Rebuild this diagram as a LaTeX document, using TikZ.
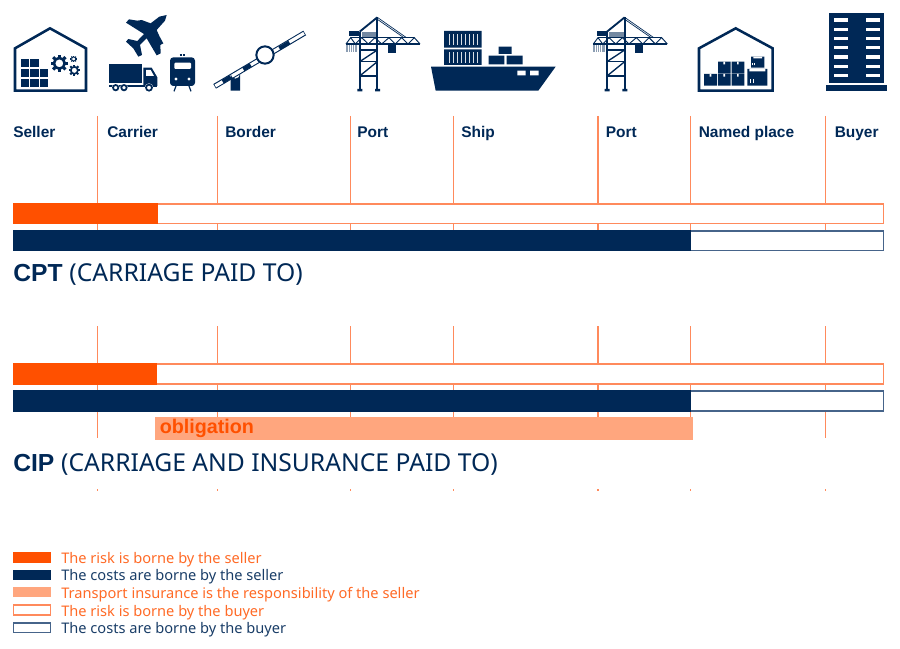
\documentclass[tikz,border=0pt]{standalone}
\usepackage{fontspec}
\setmainfont{Liberation Sans}
\newfontfamily\plexlike{Noto Sans}
\definecolor{navy}{HTML}{002856}
\definecolor{orng}{HTML}{FF5000}
\definecolor{lorng}{HTML}{FFA67E}
\definecolor{vline}{HTML}{FF8A5C}
\definecolor{nline}{HTML}{46648A}
\tikzset{
  px/.style={x=0.75pt,y=-0.75pt},
  zm/.style={x=0.25pt,y=-0.25pt},
  stopline/.style={draw=vline,line width=1.1pt},
  riskfill/.style={fill=orng,draw=none},
  riskbox/.style={draw=vline,line width=1.1pt,fill=white},
  costfill/.style={fill=navy,draw=none},
  costbox/.style={draw=nline,line width=1.1pt,fill=white},
  insfill/.style={fill=lorng,draw=none},
  toplabel/.style={anchor=base west,inner sep=0pt,text=navy,font=\bfseries\fontsize{11.6}{13}\selectfont},
  titlelabel/.style={anchor=base west,inner sep=0pt,text=navy,font=\fontsize{18.5}{20}\selectfont},
  oblabel/.style={anchor=base west,inner sep=0pt,text=orng,font=\bfseries\fontsize{14.8}{17}\selectfont},
  legtext/.style={anchor=base west,inner sep=0pt,font=\plexlike\fontsize{10.95}{12}\selectfont},
  ic/.style={fill=navy,draw=none},
  icl/.style={draw=navy,fill=none},
}
\newcommand{\geardraw}[3]{%
  \begin{scope}[shift={(#1,#2)}]
    \draw[icl,line width=#3*0.075pt] (0,0) circle ({#3*0.62});
    \foreach \a in {0,45,...,315}
      \draw[icl,line width=#3*0.09pt] (\a:{#3*0.7}) -- (\a:{#3});
  \end{scope}}
\newcommand{\cranedraw}{%
  \fill[navy!55] (125,97) rectangle (172,110);
  \fill[navy!45] (78,132) rectangle (112,155);
  \draw[white,line width=0.3pt] (84,134) -- (84,155) (90,134) -- (90,155) (96,134) -- (96,155) (102,134) -- (102,155);
  \fill[ic] (88,93) rectangle (118,107);
  \fill[ic] (203,135) rectangle (228,160);
  \draw[icl,line width=1.1pt] (78,132) -- (300,132);
  \draw[icl,line width=0.9pt] (92,113) -- (283,113);
  \draw[icl,line width=0.7pt] (78,132) -- (92,113) -- (106,132) -- (125,113) -- (145,132) -- (165,113) -- (185,132) -- (207,113) -- (226,132) -- (245,113) -- (264,132) -- (283,113) -- (300,132);
  \draw[icl,line width=1.4pt] (119,95) -- (172,52);
  \draw[icl,line width=0.5pt] (172,52) -- (258,112) (172,58) -- (250,112);
  \draw[icl,line width=1.6pt] (119,95) -- (119,270) (172,52) -- (172,270);
  \draw[icl,line width=1.1pt] (119,150) -- (172,150) (119,185) -- (172,185) (119,228) -- (172,228);
  \draw[icl,line width=1pt] (119,185) -- (172,150) (119,228) -- (172,185);
  \fill[ic] (112,267) rectangle (127,274) (165,267) rectangle (180,274);
}
\begin{document}
\begin{tikzpicture}[px]
\useasboundingbox (0,0) rectangle (900,649);
% stop lines
\foreach \x in {97.7,217.3,350.3,453.7,598.2,690.7,825.7}{
  \draw[stopline] (\x,116) -- (\x,232);
  \draw[stopline] (\x,326) -- (\x,438);
  \draw[stopline] (\x,489) -- (\x,491);
}
% CPT bars
\draw[riskbox] (13.7,204) rectangle (883.5,223.6);
\fill[riskfill] (13,203.2) rectangle (157.5,224.3);
\draw[costbox] (13.7,231) rectangle (883.5,250.6);
\fill[costfill] (13,230.2) rectangle (690.5,251.3);
% CIP bars
\draw[riskbox] (13.7,364) rectangle (883.5,383.8);
\fill[riskfill] (13,363.3) rectangle (157,384.5);
\draw[costbox] (13.7,391.2) rectangle (883.5,410.9);
\fill[costfill] (13,390.4) rectangle (690.5,411.6);
\fill[insfill] (155,416.7) rectangle (692.5,440.3);
\node[oblabel] (ob) at (159.5,433) {obligation};
% top labels
\node[toplabel] (l1) at (13,137.5) {Seller};
\node[toplabel] (l2) at (107,137.5) {Carrier};
\node[toplabel] (l3) at (225,137.5) {Border};
\node[toplabel] (l4) at (357,137.5) {Port};
\node[toplabel] (l5) at (461,137.5) {Ship};
\node[toplabel] (l6) at (605.5,137.5) {Port};
\node[toplabel] (l7) at (698.5,137.5) {Named place};
\node[toplabel] (l8) at (834.5,137.5) {Buyer};
% titles
\node[titlelabel] (t1) at (13,281.5) {{\bfseries CPT} \plexlike (CARRIAGE PAID TO)};
\node[titlelabel] (t2) at (13,471.5) {{\bfseries CIP} \plexlike (CARRIAGE AND INSURANCE PAID TO)};
% legend
\fill[riskfill] (13,552.3) rectangle (50.5,562.5);
\fill[costfill] (13,569.7) rectangle (50.5,579.8);
\fill[insfill] (13,587) rectangle (50.5,597.3);
\draw[riskbox] (13.5,605.2) rectangle (50.3,615);
\draw[costbox] (13.5,622.8) rectangle (50.3,632.4);
\node[legtext,text=orng!85!white] (g1) at (61,563.4) {The risk is borne by the seller};
\node[legtext,text=navy!90!white] (g2) at (61,580.9) {The costs are borne by the seller};
\node[legtext,text=orng!85!white] (g3) at (61,598.4) {Transport insurance is the responsibility of the seller};
\node[legtext,text=orng!85!white] (g4) at (61,616.1) {The risk is borne by the buyer};
\node[legtext,text=navy!90!white] (g5) at (61,633.6) {The costs are borne by the buyer};
% icons: crop 1
\begin{scope}[zm]
  % warehouse
  \draw[icl,line width=1.9pt,line join=miter] (45,272) -- (45,145) -- (150,85) -- (258,145) -- (258,272) -- cycle;
  \foreach \c/\r in {0/0,1/0,0/1,1/1,2/1,0/2,1/2,2/2}
    \fill[ic] ({62+\c*28.5},{177+\r*29.5}) rectangle ++(25,25);
  \geardraw{178}{190}{26}
  \geardraw{223}{211}{17}
  \geardraw{221}{177}{10}
  % plane
  \fill[ic] (500,45) -- (495,62) -- (470,90) -- (478,108) -- (490,130) -- (481,135) -- (482,160) -- (470,166) -- (440,115) -- (420,135) -- (426,165) -- (415,170) -- (400,145) -- (378,125) -- (385,117) -- (412,123) -- (432,102) -- (378,68) -- (387,58) -- (412,62) -- (425,60) -- (452,70) -- (478,50) -- cycle;
  % truck
  \fill[ic] (328,193) rectangle (425,250);
  \fill[ic] (430,203) -- (455,203) -- (472,232) -- (472,258) -- (430,258) -- cycle;
  \fill[ic] (328,254) rectangle (472,261);
  \fill[white] (438,210) -- (452,210) -- (462,228) -- (438,228) -- cycle;
  \foreach \x/\r in {347/10,372/10,447/11}{
    \fill[white] (\x,263) circle (\r+2);
    \draw[icl,line width=1.3pt] (\x,263) circle (\r-2);
  }
  % train
  \fill[ic,rounded corners=2.5pt] (510,172) rectangle (585,258);
  \fill[white,rounded corners=0.8pt] (523,188) rectangle (573,207);
  \fill[white] (528,237) circle (5) (567,237) circle (5);
  \draw[icl,line width=0.8pt] (539,165) -- (545,165) (550,165) -- (556,165);
  \draw[icl,line width=0.9pt] (528,258) -- (522,274) (567,258) -- (573,274);
  % barrier
  \draw[navy,line width=4pt] (644,259) -- (914,99);
  \draw[white,line width=2.4pt] (646,258) -- (912,100);
  \draw[navy,line width=3pt] (668,245) -- (692,231) (730,208) -- (752,195) (838,145) -- (868,127);
  \fill[ic] (692,272) -- (692,222) arc[start angle=180,end angle=0,radius=14] -- (720,272) -- cycle;
  \draw[navy,line width=1.5pt,fill=white] (795,165) circle (26);
\end{scope}
% crop 2
\begin{scope}[zm,xshift=240pt]
  \cranedraw
  % ship
  \fill[ic] (333,200) -- (707,200) -- (655,272) -- (347,272) -- cycle;
  \fill[white] (592,212) rectangle (617,226) (630,212) rectangle (656,226);
  \fill[ic] (372,93) rectangle (485,143) (372,148) rectangle (485,195);
  \foreach \i in {0,...,7}{
    \fill[white!85!navy] ({386+\i*12},101) rectangle ++(5,34);
    \fill[white!85!navy] ({386+\i*12},155) rectangle ++(5,34);
  }
  \fill[ic] (536,140) rectangle (575,162) (506,167) rectangle (553,193) (560,167) rectangle (608,193);
\end{scope}
% second crane
\begin{scope}[zm,xshift=425.5pt]
  \cranedraw
\end{scope}
% crop 3
\begin{scope}[zm,xshift=480pt]
  \draw[icl,line width=1.9pt,line join=miter] (177,272) -- (177,145) -- (287,85) -- (398,145) -- (398,272) -- cycle;
  \fill[ic] (192,222) rectangle (231,257) (234,222) rectangle (272,257) (275,222) rectangle (313,257) (234,185) rectangle (272,220) (275,185) rectangle (313,220);
  \fill[ic] (322,207) rectangle (382,257) (333,170) rectangle (373,203);
  \fill[white] (209,222) rectangle (214,230) (250,222) rectangle (255,230) (291,222) rectangle (296,230) (250,185) rectangle (255,193) (291,185) rectangle (296,193) (328,207) rectangle (376,214) (340,170) rectangle (366,175);
  \draw[white,line width=0.35pt] (331,250) -- (331,238) (341,250) -- (341,238) (338,196) -- (338,188) (344,196) -- (344,188);
  % building
  \fill[ic] (568,38) rectangle (733,248);
  \fill[ic] (558,254) rectangle (741,273);
  \foreach \y in {60,88,116,143,171,199,226}{
    \fill[white] (583,\y-5) rectangle (623,\y+5);
    \fill[white] (679,\y-5) rectangle (719,\y+5);
  }
\end{scope}
\end{tikzpicture}
\end{document}
